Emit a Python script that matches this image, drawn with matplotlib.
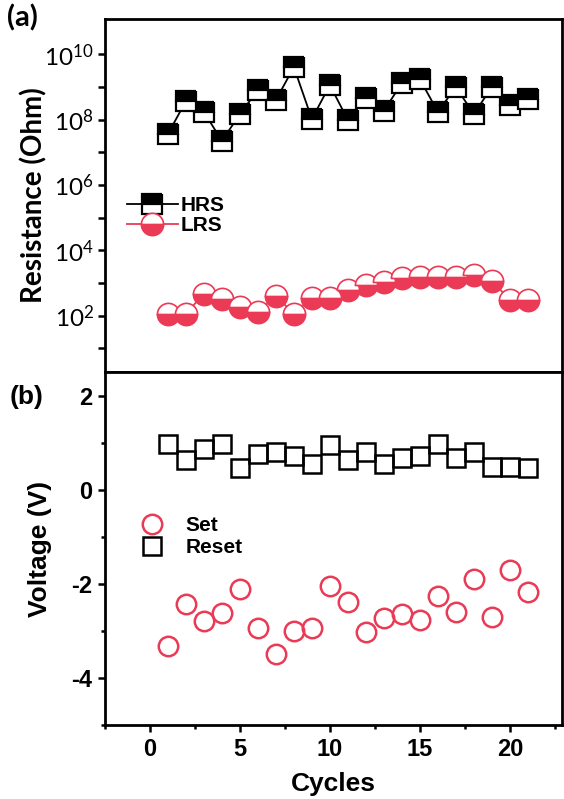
import matplotlib
matplotlib.use("Agg")
import matplotlib.pyplot as plt
from matplotlib.ticker import FixedLocator, FuncFormatter, MultipleLocator
import numpy as np

plt.rcParams['mathtext.default'] = 'regular'
plt.rcParams['axes.unicode_minus'] = False

cycles = list(range(1, 22))

# log10 of resistance (Ohm)
hrs_log = [7.56, 8.57, 8.24, 7.35, 8.17, 8.91, 8.60, 9.61, 8.02, 9.06, 7.99,
           8.66, 8.27, 9.12, 9.24, 8.24, 9.00, 8.17, 9.00, 8.45, 8.63]
lrs_log = [2.07, 2.06, 2.68, 2.52, 2.27, 2.12, 2.61, 2.06, 2.55, 2.55, 2.79,
           2.94, 3.04, 3.16, 3.19, 3.19, 3.19, 3.25, 3.07, 2.49, 2.49]

# voltages (V)
v_set = [-3.33, -2.43, -2.79, -2.62, -2.11, -2.94, -3.50, -3.01, -2.94, -2.05, -2.39,
         -3.03, -2.73, -2.64, -2.77, -2.26, -2.60, -1.90, -2.71, -1.71, -2.17]
v_reset = [0.96, 0.64, 0.87, 0.98, 0.47, 0.75, 0.79, 0.72, 0.55, 0.94, 0.62,
           0.81, 0.55, 0.68, 0.72, 0.98, 0.68, 0.79, 0.49, 0.49, 0.47]

hrs = 10 ** np.array(hrs_log)
lrs = 10 ** np.array(lrs_log)

RED = '#EA3A55'
calibri = ['Lato', 'DejaVu Sans']
arial = ['Liberation Sans', 'DejaVu Sans']

fig = plt.figure(figsize=(5.64, 7.99), dpi=100)
ax1 = fig.add_axes([0.186, 0.5344, 0.8105, 0.4418])
ax2 = fig.add_axes([0.186, 0.0926, 0.8105, 0.4418])

for ax in (ax1, ax2):
    for s in ax.spines.values():
        s.set_linewidth(2.0)
    ax.set_xlim(-2.5, 22.9)

# ---- (a) resistance
ax1.plot(cycles, hrs, color='black', lw=1.3, marker='s', ms=14, mew=1.6,
         mec='black', mfc='black', mfcalt='white', fillstyle='top', label='HRS')
ax1.plot(cycles, lrs, color=RED, lw=1.3, marker='o', ms=16, mew=1.2,
         mec=RED, mfc=RED, mfcalt='white', fillstyle='bottom', label='LRS')
ax1.set_yscale('log')
ax1.set_ylim(10 ** 0.28, 10 ** 11.08)
ax1.yaxis.set_major_locator(FixedLocator([1e2, 1e4, 1e6, 1e8, 1e10]))
ax1.yaxis.set_minor_locator(FixedLocator([1e1, 1e3, 1e5, 1e7, 1e9]))
ax1.yaxis.set_major_formatter(FuncFormatter(lambda v, p: r'$\mathregular{10^{%d}}$' % round(np.log10(v))))
ax1.yaxis.set_minor_formatter(FuncFormatter(lambda v, p: ''))
ax1.tick_params(axis='y', which='both', direction='out', length=5, width=1.8, pad=3)
ax1.tick_params(axis='x', which='both', bottom=False, labelbottom=False)
for lab in ax1.get_yticklabels():
    lab.set_family(calibri)
    lab.set_fontsize(17.5)
ax1.set_ylabel('Resistance (Ohm)', family=calibri, fontsize=20, fontweight='bold')
ax1.yaxis.set_label_coords(-0.125, 0.5)
leg1 = ax1.legend(loc='center left', bbox_to_anchor=(0.048, 0.443), frameon=False,
                  handlelength=2.45, handletextpad=0.15, labelspacing=0.05,
                  borderpad=0, borderaxespad=0, prop={'family': arial, 'weight': 'bold', 'size': 15})
fig.text(0.012, 0.977, '(a)', family=calibri, fontsize=21, fontweight='bold', va='center')

# ---- (b) voltage
ax2.plot(cycles, v_set, ls='none', marker='o', ms=14, mew=1.8, mec=RED, mfc='none', label='Set')
ax2.plot(cycles, v_reset, ls='none', marker='s', ms=13, mew=1.8, mec='black', mfc='none', label='Reset')
ax2.set_ylim(-5, 2.5)
ax2.yaxis.set_major_locator(FixedLocator([-4, -2, 0, 2]))
ax2.yaxis.set_minor_locator(FixedLocator([-5, -3, -1, 1]))
ax2.xaxis.set_major_locator(MultipleLocator(5))
ax2.xaxis.set_minor_locator(FixedLocator([-2.5, 2.5, 7.5, 12.5, 17.5, 22.5]))
ax2.tick_params(which='major', direction='out', length=5, width=1.8, pad=4)
ax2.tick_params(which='minor', direction='out', length=3, width=1.8)
for lab in ax2.get_yticklabels() + ax2.get_xticklabels():
    lab.set_family(arial)
    lab.set_fontsize(17)
    lab.set_fontweight('bold')
ax2.set_ylabel('Voltage (V)', family=arial, fontsize=19, fontweight='bold')
ax2.yaxis.set_label_coords(-0.115, 0.5)
ax2.set_xlabel('Cycles', family=arial, fontsize=19, fontweight='bold', labelpad=8)
leg2 = ax2.legend(loc='center left', bbox_to_anchor=(0.057, 0.533), frameon=False,
                  handlelength=2.0, handletextpad=0.6, labelspacing=0.15, numpoints=1,
                  borderpad=0, borderaxespad=0, prop={'family': arial, 'weight': 'bold', 'size': 15})
fig.text(0.017, 0.503, '(b)', family=arial, fontsize=19, fontweight='bold', va='center')

fig.savefig('out.png', dpi=100)
